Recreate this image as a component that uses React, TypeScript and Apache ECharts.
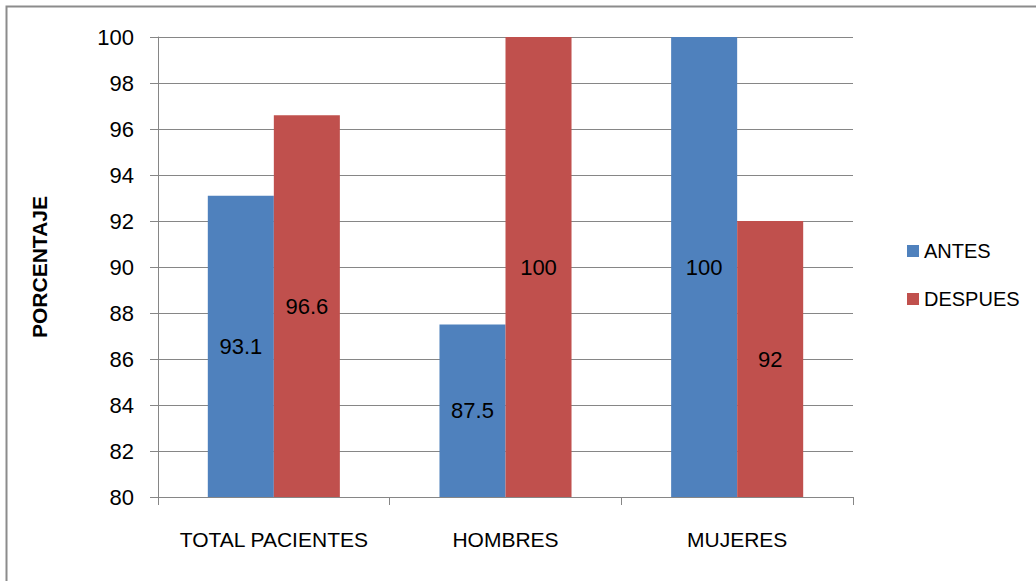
import React, { useEffect, useRef } from "react";
import * as echarts from "echarts";

const categories = ["TOTAL PACIENTES", "HOMBRES", "MUJERES"];
const antes = [93.1, 87.5, 100];
const despues = [96.6, 100, 92];
const yTitle = "PORCENTAJE";
const FONT = "Liberation Sans";

export default function App() {
  const ref = useRef<HTMLDivElement>(null);
  useEffect(() => {
    document.body.style.margin = "0";
    const chart = echarts.init(ref.current!, undefined, { renderer: "svg" });
    const label = {
      show: true,
      position: "inside",
      color: "#000",
      fontSize: 22,
      fontFamily: FONT,
    };
    chart.setOption({
      animation: false,
      backgroundColor: "#fff",
      graphic: [
        {
          type: "rect",
          shape: { x: 6.5, y: 6.5, width: 1100, height: 700 },
          style: { fill: "none", stroke: "#8c8c8c", lineWidth: 2 },
          silent: true,
        },
      ],
      grid: { left: 158, right: 183, top: 37, bottom: 84 },
      legend: {
        orient: "vertical",
        left: 902,
        top: 236,
        itemWidth: 12,
        itemHeight: 12,
        itemGap: 28,
        icon: "rect",
        textStyle: { fontSize: 20, lineHeight: 20, fontFamily: FONT, color: "#000", padding: [0, 0, 0, 0] },
        data: ["ANTES", "DESPUES"],
      },
      xAxis: {
        type: "category",
        data: categories,
        axisLine: { lineStyle: { color: "#868686", width: 1 } },
        axisTick: { show: true, length: 8, lineStyle: { color: "#868686" } },
        axisLabel: { fontSize: 21, fontFamily: FONT, color: "#000", margin: 32, interval: 0, hideOverlap: false },
      },
      yAxis: {
        type: "value",
        min: 80,
        max: 100,
        interval: 2,
        name: yTitle,
        nameLocation: "middle",
        nameGap: 108,
        nameRotate: 90,
        nameTextStyle: { fontSize: 21, fontWeight: "bold", fontFamily: FONT, color: "#000" },
        axisLine: { show: true, lineStyle: { color: "#868686", width: 1 } },
        axisTick: { show: true, length: 8, lineStyle: { color: "#868686" } },
        axisLabel: { fontSize: 22, fontFamily: FONT, color: "#000", margin: 24 },
        splitLine: { lineStyle: { color: "#868686", width: 1 } },
      },
      series: [
        {
          name: "ANTES",
          type: "bar",
          data: antes,
          itemStyle: { color: "#4F81BD" },
          barGap: "0%",
          barCategoryGap: "43%",
          label,
        },
        {
          name: "DESPUES",
          type: "bar",
          data: despues,
          itemStyle: { color: "#C0504D" },
          barGap: "0%",
          barCategoryGap: "43%",
          label,
        },
      ],
    });
    return () => chart.dispose();
  }, []);
  return <div ref={ref} style={{ width: 1036, height: 581 }} />;
}
